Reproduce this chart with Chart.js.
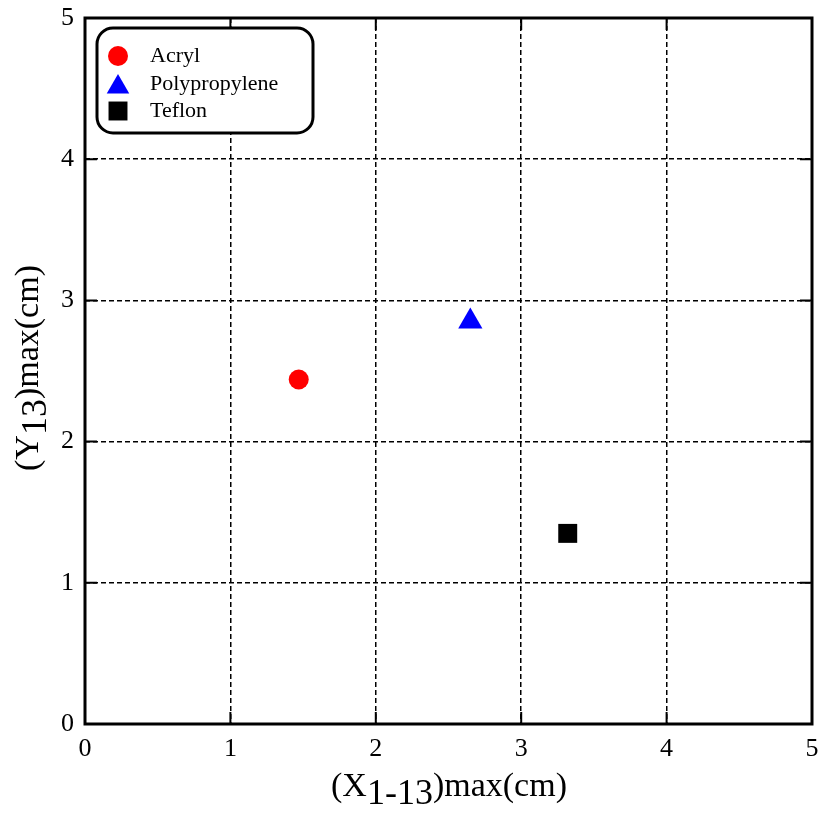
<!DOCTYPE html>
<html lang="en">
<head>
    <meta charset="UTF-8">
    <title>(Y13)max vs (X1-13)max</title>
    <script src="https://cdn.jsdelivr.net/npm/chart.js@4.4.0/dist/chart.umd.min.js"></script>
    <style>
        body { margin: 0; background: #fff; }
        #wrap { position: relative; width: 825px; height: 814px; }
    </style>
</head>
<body>
    <div id="wrap"><canvas id="scatterChart"></canvas></div>

    <script>
        // Data
        const materials = ['Acryl', 'Polypropylene', 'Teflon'];
        const xMax = [1.47, 2.65, 3.32];
        const yMax = [2.44, 2.85, 1.35];
        const colors = ['#ff0000', '#0000ff', '#000000'];
        const markers = ['circle', 'triangle', 'rect'];
        const markerRadius = [10, 14, 13.4];
        const tickValues = [0, 1, 2, 3, 4, 5];

        const FONT = "'Liberation Serif', 'DejaVu Serif', serif";

        const datasets = materials.map((name, i) => ({
            label: name,
            data: [{ x: xMax[i], y: yMax[i] }],
            pointStyle: markers[i],
            pointRadius: markerRadius[i],
            pointHoverRadius: markerRadius[i],
            backgroundColor: colors[i],
            borderColor: colors[i],
            borderWidth: 0
        }));

        // inward ticks, legend box and axis titles with subscripts
        const decorations = {
            id: 'decorations',
            afterDraw(chart) {
                const ctx = chart.ctx;
                const a = chart.chartArea;
                const xs = chart.scales.x, ys = chart.scales.y;
                ctx.save();
                ctx.strokeStyle = '#000';
                ctx.lineWidth = 2;
                const len = 12;
                tickValues.forEach(v => {
                    const px = xs.getPixelForValue(v);
                    const py = ys.getPixelForValue(v);
                    ctx.beginPath();
                    ctx.moveTo(px, a.bottom); ctx.lineTo(px, a.bottom - len);
                    ctx.moveTo(px, a.top); ctx.lineTo(px, a.top + len);
                    ctx.moveTo(a.left, py); ctx.lineTo(a.left + len, py);
                    ctx.moveTo(a.right, py); ctx.lineTo(a.right - len, py);
                    ctx.stroke();
                });

                // legend box
                const bx = 97, by = 28, bw = 216, bh = 105, r = 16;
                ctx.fillStyle = '#fff';
                ctx.lineWidth = 3;
                ctx.beginPath();
                ctx.roundRect(bx, by, bw, bh, r);
                ctx.fill();
                ctx.stroke();
                ctx.font = '22px ' + FONT;
                ctx.textBaseline = 'middle';
                const rowY = [56, 84, 111];
                const legendR = [10, 13, 13.4];
                chart.data.datasets.forEach((ds, i) => {
                    ctx.fillStyle = ds.backgroundColor;
                    ctx.strokeStyle = ds.backgroundColor;
                    Chart.helpers.drawPoint(ctx, {
                        pointStyle: ds.pointStyle,
                        radius: legendR[i],
                        rotation: 0,
                        borderWidth: 0
                    }, 118, rowY[i] + (ds.pointStyle === 'triangle' ? 3 : 0));
                    ctx.fillStyle = '#000';
                    ctx.textAlign = 'left';
                    ctx.fillText(ds.label, 150, rowY[i]);
                });

                // axis titles
                const drawParts = (parts, x, y) => {
                    let total = 0;
                    parts.forEach(p => {
                        ctx.font = p.size + 'px ' + FONT;
                        total += ctx.measureText(p.t).width;
                    });
                    let cx = x - total / 2;
                    parts.forEach(p => {
                        ctx.font = p.size + 'px ' + FONT;
                        ctx.fillText(p.t, cx, y + p.dy);
                        cx += ctx.measureText(p.t).width;
                    });
                };
                ctx.fillStyle = '#000';
                ctx.textAlign = 'left';
                ctx.textBaseline = 'alphabetic';
                drawParts([
                    { t: '(X', size: 34, dy: 0 },
                    { t: '1-13', size: 36, dy: 8 },
                    { t: ')max(cm)', size: 34, dy: 0 }
                ], 449, 796);

                ctx.translate(38, 368);
                ctx.rotate(-Math.PI / 2);
                drawParts([
                    { t: '(Y', size: 34, dy: 0 },
                    { t: '13', size: 36, dy: 8 },
                    { t: ')max(cm)', size: 34, dy: 0 }
                ], 0, 0);
                ctx.restore();
            }
        };

        new Chart(document.getElementById('scatterChart'), {
            type: 'scatter',
            data: { datasets },
            options: {
                responsive: true,
                maintainAspectRatio: false,
                animation: false,
                layout: { padding: { top: 18, right: 13, left: 0, bottom: 0 } },
                plugins: {
                    legend: { display: false },
                    tooltip: { enabled: false }
                },
                scales: {
                    x: {
                        type: 'linear',
                        min: 0,
                        max: 5,
                        afterBuildTicks: s => { s.ticks = tickValues.map(v => ({ value: v })); },
                        afterFit: s => { s.height = 90; },
                        grid: {
                            color: '#000',
                            lineWidth: 1.5,
                            drawTicks: false
                        },
                        border: { display: false, dash: [5, 3] },
                        ticks: {
                            color: '#000',
                            padding: 10,
                            maxRotation: 0,
                            font: { family: FONT, size: 26 }
                        }
                    },
                    y: {
                        type: 'linear',
                        min: 0,
                        max: 5,
                        afterBuildTicks: s => { s.ticks = tickValues.map(v => ({ value: v })); },
                        afterFit: s => { s.width = 85; },
                        grid: {
                            color: '#000',
                            lineWidth: 1.5,
                            drawTicks: false
                        },
                        border: { display: false, dash: [5, 3] },
                        ticks: {
                            color: '#000',
                            padding: 11,
                            font: { family: FONT, size: 26 }
                        }
                    }
                }
            },
            plugins: [{
                id: 'fixArea',
                afterLayout(chart) {
                    // pin the plot frame to where it sits in the figure
                    const a = chart.chartArea;
                    const xs = chart.scales.x, ys = chart.scales.y;
                    a.left = 85; a.right = 812; a.top = 18; a.bottom = 724;
                    xs.left = 85; xs.right = 812; xs.width = 727;
                    xs.top = 724; xs.bottom = 814; xs.height = 90;
                    ys.top = 18; ys.bottom = 724; ys.height = 706;
                    ys.left = 0; ys.right = 85; ys.width = 85;
                    xs.configure(); ys.configure();
                }
            }, {
                id: 'frame',
                afterDatasetsDraw(chart) {
                    const a = chart.chartArea;
                    const ctx = chart.ctx;
                    ctx.save();
                    ctx.strokeStyle = '#000';
                    ctx.lineWidth = 3;
                    ctx.strokeRect(a.left, a.top, a.right - a.left, a.bottom - a.top);
                    ctx.restore();
                }
            }, decorations]
        });
    </script>
</body>
</html>
